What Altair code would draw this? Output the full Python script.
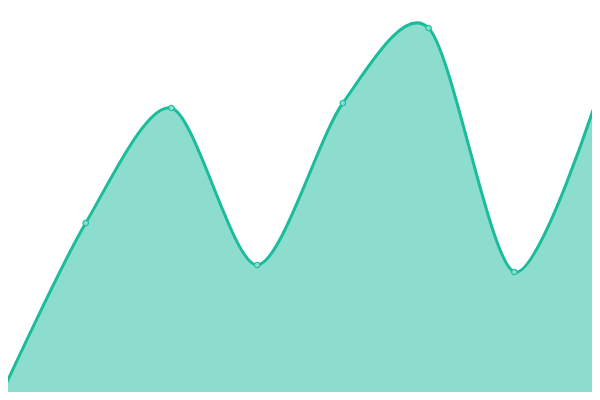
import altair as alt
import pandas as pd

steps = [0, 1, 2, 3, 4, 5, 6, 7]
values = [3, 177, 292, 135, 297, 372, 128, 311]

df = pd.DataFrame({"step": steps, "value": values})

x = alt.X("step:Q", axis=None, scale=alt.Scale(domain=[0, 7], nice=False, zero=False))
y = alt.Y("value:Q", axis=None, scale=alt.Scale(domain=[0, 400], nice=False))

base = alt.Chart(df).encode(x=x, y=y)

area = base.mark_area(
    interpolate="cardinal", tension=0.15, color="#1abc9c", fillOpacity=0.5,
    line={"color": "#1abc9c", "strokeWidth": 3, "interpolate": "cardinal", "tension": 0.15}, clip=False,
)
pts = base.mark_point(
    filled=True, fill="#8ae0d0", stroke="#1abc9c", strokeWidth=1.2, size=30, opacity=1,
)

chart = (area + pts).properties(
    width=600, height=400,
    padding={"left": -8, "top": -8, "right": -8, "bottom": -8},
    autosize=alt.AutoSizeParams(type="none"),
).configure_view(stroke=None)

chart.save("out.html", embed_options={"renderer": "svg", "actions": False})
